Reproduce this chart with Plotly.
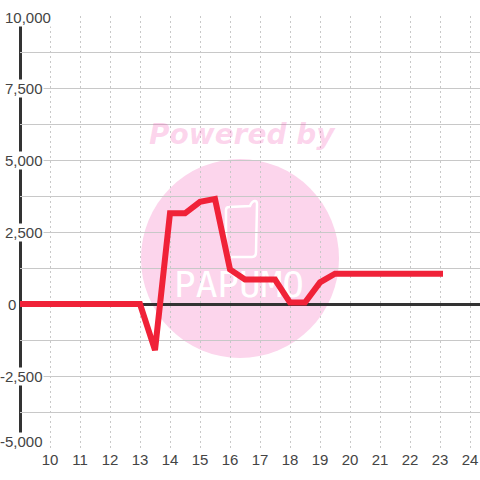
import plotly.graph_objects as go

x_values = [9, 9.5, 10, 10.5, 11, 11.5, 12, 12.5, 13, 13.5, 14, 14.5, 15, 15.5, 16, 16.5, 17, 17.5, 18, 18.5, 19, 19.5, 20, 20.5, 21, 21.5, 22, 22.5, 23]
y_values = [0, 0, 0, 0, 0, 0, 0, 0, 0, -1600, 3150, 3150, 3550, 3650, 1200, 850, 850, 850, 50, 50, 750, 1050, 1050, 1050, 1050, 1050, 1050, 1050, 1050]
x_ticks = list(range(10, 25))
y_grid = [-5000, -3750, -2500, -1250, 1250, 2500, 3750, 5000, 6250, 7500, 8750, 10000]
y_label_vals = [10000, 7500, 5000, 2500, 0, -2500, -5000]
y_labels = ["10,000", "7,500", "5,000", "2,500", "0", "-2,500", "-5,000"]

W, H = 480, 480
L, R, T, B = 20, 480, 16, 448
X0, X1 = 9, 9 + (R - L) / 30
TEXT = "#444444"
AXIS = "#333333"
PINK = "#fcd5ec"
FONT = "Liberation Sans"

def px(v):  # paper x from page pixels
    return (v - L) / (R - L)
def py(v):  # paper y from page pixels
    return (B - v) / (B - T)
def dx(v):  # data x from page pixels
    return X0 + (v - L) / 30
def dy(v):  # data y from page pixels
    return -5000 + (B - v) / (B - T) * 15000

fig = go.Figure()
# logo wordmark sits under the data line, so it is a text trace drawn first
fig.add_trace(go.Scatter(x=[dx(239)], y=[dy(288)], mode="text", text=["PAPUMO"], hoverinfo="skip",
                         textposition="middle center", showlegend=False, cliponaxis=False,
                         textfont=dict(family="DejaVu Sans Mono", size=36, color="white")))
fig.add_trace(go.Scatter(x=x_values, y=y_values, mode="lines", hoverinfo="skip",
                         line=dict(color="#f02238", width=6, shape="linear"),
                         showlegend=False, cliponaxis=False))

shapes = [
    dict(type="circle", xref="paper", yref="paper", x0=px(141), x1=px(339), y0=py(358), y1=py(159),
         fillcolor=PINK, line_width=0, layer="below"),
    dict(type="path", xref="paper", yref="paper",
         path=f"M {px(229)} {py(207)} L {px(250)} {py(206)} Q {px(252)} {py(201)} {px(255)} {py(201)} "
              f"Q {px(257)} {py(201)} {px(257)} {py(204)} "
              f"L {px(256)} {py(252)} Q {px(256)} {py(257)} {px(252)} {py(257)} L {px(230)} {py(257)} "
              f"Q {px(226)} {py(257)} {px(226)} {py(252)} L {px(226)} {py(210)} Q {px(226)} {py(207)} {px(229)} {py(207)} Z",
         line=dict(color="white", width=2.5), layer="below"),
    dict(type="line", xref="paper", yref="paper", x0=px(20.5), x1=px(20.5), y0=0, y1=1,
         line=dict(color=AXIS, width=3), layer="below"),
]

annotations = [
    dict(text="<b><i>Powered by</i></b>", xref="paper", yref="paper", x=px(242), y=py(134),
         showarrow=False, xanchor="center", yanchor="middle",
         font=dict(family="DejaVu Sans", size=28, color="rgba(243,87,179,0.25)")),
]
for val, lab in zip(y_label_vals, y_labels):
    right = {"10,000": 52, "0": 17}.get(lab, 44)
    shift = {"-5,000": 7, "10,000": -1}.get(lab, 0)
    annotations.append(dict(text=lab, xref="paper", yref="y", x=px(right), y=val, yshift=shift,
                            showarrow=False, xanchor="right", yanchor="middle", bgcolor="white",
                            borderpad=0, font=dict(family=FONT, size=15, color=TEXT)))

fig.update_layout(
    width=W, height=H, autosize=False, showlegend=False,
    paper_bgcolor="white", plot_bgcolor="rgba(0,0,0,0)",
    margin=dict(l=L, r=W - R, t=T, b=H - B, pad=0),
    shapes=shapes, annotations=annotations,
    xaxis=dict(range=[X0, X1], tickmode="array", tickvals=x_ticks, ticktext=[str(v) for v in x_ticks],
               ticks="", showline=False, zeroline=False, showgrid=True,
               gridcolor="#c8c8c8", gridwidth=1, griddash="2px,3px",
               tickfont=dict(family=FONT, size=15, color=TEXT), ticklabelstandoff=1),
    yaxis=dict(range=[-5000, 10000], tickmode="array", tickvals=y_grid, showticklabels=False,
               ticks="", showline=False, zeroline=True, zerolinecolor=AXIS, zerolinewidth=3,
               showgrid=True, gridcolor="#c8c8c8", gridwidth=1),
)
post = """
document.body.style.margin='0';document.body.style.overflow='hidden';
document.querySelectorAll('.scatterlayer .js-line').forEach(function(p){
  p.style.setProperty('stroke-linecap','square');
  p.style.setProperty('stroke-linejoin','miter');
  p.style.setProperty('stroke-miterlimit','4');
});
"""
fig.write_html("out.html", config=dict(displayModeBar=False), post_script=post)
